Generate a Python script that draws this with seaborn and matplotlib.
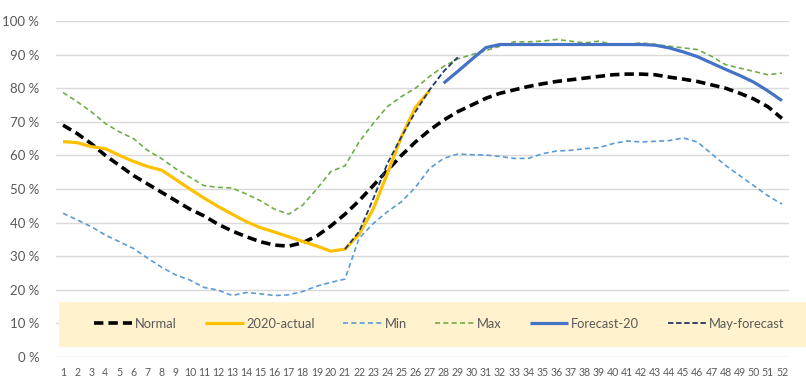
import numpy as np
import pandas as pd
import seaborn as sns
import matplotlib.pyplot as plt
from matplotlib.patches import Rectangle

weeks = list(range(1, 53))

normal = [69, 66.5, 63.5, 60, 57, 54, 51.5, 49, 46.5, 44, 42, 39.5, 37.5, 35.8, 34.3, 33.3,
          33, 34, 36, 39, 42.5, 46.5, 51, 55.5, 60, 64, 67.5, 70.5, 73, 75, 77, 78.5,
          79.5, 80.5, 81.3, 82, 82.5, 83, 83.5, 84, 84.2, 84.2, 84, 83.3, 82.7, 82, 81,
          80, 78.5, 76.8, 74.5, 71]
actual_2020 = [64.1, 63.8, 62.6, 62, 60, 58.2, 56.7, 55.6, 52.8, 50, 47.3, 44.8, 42.5, 40.3,
               38.5, 37.2, 35.8, 34.4, 33, 31.5, 32.1, 36.5, 44, 54.5, 65.5, 74.3, 79.3]
min_vals = [42.8, 40.8, 38.8, 36.3, 34.3, 32.3, 29.4, 26.7, 24.4, 22.9, 20.7, 19.9, 18.3,
            19.2, 18.8, 18.3, 18.5, 19.5, 21.1, 22.2, 23.2, 35.3, 39.7, 43.2, 46.2, 50.5,
            56.1, 59.1, 60.4, 60.2, 60.1, 59.7, 59.1, 59.1, 60.5, 61.3, 61.5, 62, 62.3, 63.5,
            64.3, 64, 64.2, 64.4, 65.2, 64, 60.5, 57, 54, 51, 48, 45.5]
max_vals = [78.7, 76, 73, 69.5, 67, 65, 61.5, 59, 56, 53.5, 51, 50.5, 50.3, 48.5, 46.5, 44,
            42.5, 45.2, 50, 55.2, 56.9, 64, 69.5, 74.5, 77.5, 80, 83.5, 86.5, 88.7, 90,
            91.2, 92.5, 93.8, 93.8, 94, 94.5, 94, 93.5, 94, 93, 93, 93.5, 93, 92.5, 92,
            91.5, 89.5, 87, 86, 85, 84, 84.5]
forecast_start = 28
forecast_20 = [81.5, 85, 88.6, 92.1, 93, 93, 93, 93, 93, 93, 93, 93, 93, 93, 93, 92.8,
               92, 90.8, 89.4, 87.5, 85.6, 83.8, 81.8, 79.2, 76.3]
may_start = 21
may_forecast = [32.1, 37.3, 47, 57.5, 65.5, 73, 79.5, 85, 89.2]

series = ['Normal', '2020-actual', 'Min', 'Max', 'Forecast-20', 'May-forecast']
colors = ['#000000', '#FFC000', '#5B9BD5', '#70AD47', '#4472C4', '#203864']
widths = [2.6, 2.3, 1.2, 1.2, 2.3, 1.3]
dashes = [(2.6, 1.4), '', (3, 2), (3, 2), '', (3, 1.5)]

frames = [
    pd.DataFrame({'Week': weeks, 'Share': normal, 'Series': 'Normal'}),
    pd.DataFrame({'Week': weeks[:len(actual_2020)], 'Share': actual_2020, 'Series': '2020-actual'}),
    pd.DataFrame({'Week': weeks, 'Share': min_vals, 'Series': 'Min'}),
    pd.DataFrame({'Week': weeks, 'Share': max_vals, 'Series': 'Max'}),
    pd.DataFrame({'Week': list(range(forecast_start, forecast_start + len(forecast_20))),
                  'Share': forecast_20, 'Series': 'Forecast-20'}),
    pd.DataFrame({'Week': list(range(may_start, may_start + len(may_forecast))),
                  'Share': may_forecast, 'Series': 'May-forecast'}),
]
df = pd.concat(frames, ignore_index=True)

sns.set_style('white')
plt.rcParams['font.family'] = ['Lato', 'DejaVu Sans']
grey = '#595959'

fig = plt.figure(figsize=(8.06, 3.88), dpi=100)
ax = fig.add_axes([56 / 806, 31 / 388, 733 / 806, 336 / 388])

for i, s in enumerate(series):
    d = df[df['Series'] == s]
    sns.lineplot(data=d, x='Week', y='Share', ax=ax, color=colors[i], lw=widths[i],
                 label=s, zorder=3 + i)
    line = ax.get_lines()[-1]
    if dashes[i]:
        line.set_dashes(dashes[i])
    line.set_solid_capstyle('butt')
    line.set_dash_capstyle('butt')

ax.set_xlim(0.5, 52.5)
ax.set_ylim(0, 100)
ax.set_xticks(weeks)
ax.set_xticklabels([str(w) for w in weeks], fontsize=7.6, color=grey)
ax.set_yticks(range(0, 101, 10))
ax.set_yticklabels([f'{v} %' for v in range(0, 101, 10)], fontsize=9.5, color=grey)
ax.tick_params(axis='both', length=0, pad=7)
ax.tick_params(axis='y', pad=12)
ax.grid(axis='y', color='#D9D9D9', lw=1)
ax.set_axisbelow(True)
for sp in ax.spines.values():
    sp.set_visible(False)
ax.set_xlabel('')
ax.set_ylabel('')

# legend band, over the gridlines but under the lines
band = Rectangle((59 / 806, 41 / 388), 747 / 806, 45 / 388, transform=fig.transFigure,
                 facecolor='#FFF2CC', edgecolor='none', zorder=1.5, clip_on=False)
ax.add_patch(band)
leg = ax.legend(loc='center', bbox_to_anchor=(439 / 806, 64 / 388), bbox_transform=fig.transFigure,
                ncol=6, frameon=False, fontsize=9.3, handlelength=3.0, handletextpad=0.2,
                columnspacing=2.2, labelcolor=grey, borderpad=0, borderaxespad=0)
leg.set_zorder(20)

fig.savefig('out.png', dpi=100)
